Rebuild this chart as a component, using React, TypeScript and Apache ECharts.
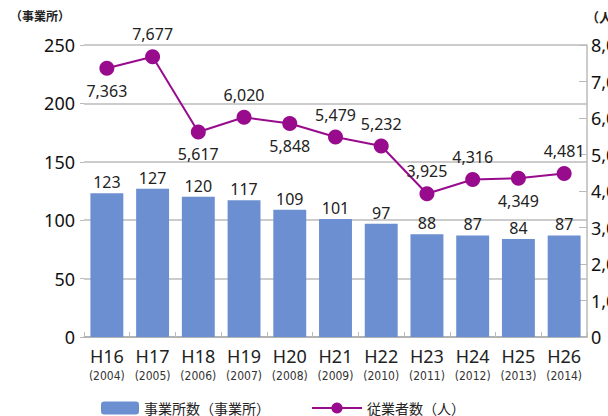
import React, { useEffect, useRef } from "react";
import * as echarts from "echarts";

const categories = ["H16", "H17", "H18", "H19", "H20", "H21", "H22", "H23", "H24", "H25", "H26"];
const years = ["2004", "2005", "2006", "2007", "2008", "2009", "2010", "2011", "2012", "2013", "2014"];
const establishments = [123, 127, 120, 117, 109, 101, 97, 88, 87, 84, 87];
const employees = [7363, 7677, 5617, 6020, 5848, 5479, 5232, 3925, 4316, 4349, 4481];
const employeeLabelSide = ["bottom", "top", "bottom", "top", "bottom", "top", "top", "top", "top", "bottom", "top"];

const barName = "事業所数（事業所）";
const lineName = "従業者数（人）";
const BAR = "#6c8fd2";
const LINE = "#980b8d";
const FONT = "'Noto Sans', 'Noto Sans CJK JP', sans-serif";

export default function App() {
  const ref = useRef<HTMLDivElement>(null);
  useEffect(() => {
    if (!ref.current) return;
    const chart = echarts.init(ref.current, null, { renderer: "svg" });
    chart.setOption({
      animation: false,
      textStyle: { fontFamily: FONT },
      grid: { left: 84, right: 21, top: 45, bottom: 79, containLabel: false, outerBoundsMode: "none" },
      legend: [
        {
          data: [barName],
          left: 96,
          top: 396,
          itemWidth: 38,
          itemHeight: 13,
          itemGap: 8,
          textStyle: { fontSize: 14, color: "#222", fontFamily: FONT },
        },
        {
          data: [lineName],
          left: 306,
          top: 396,
          itemWidth: 50,
          itemHeight: 14,
          textStyle: { fontSize: 14, color: "#222", fontFamily: FONT },
        },
      ],
      graphic: [
        {
          type: "text",
          left: 10,
          top: 10,
          style: { text: "（事業所）", fontSize: 12, fontWeight: "bold", fill: "#222", fontFamily: FONT },
        },
        {
          type: "text",
          x: 586,
          y: 10,
          style: { text: "（人）", fontSize: 13, fontWeight: "bold", fill: "#222", fontFamily: FONT },
        },
      ],
      xAxis: {
        type: "category",
        data: categories.map((c, i) => c + "\n{y|(" + years[i] + ")}"),
        axisLine: { show: true, lineStyle: { color: "#aaa", width: 1.5 } },
        axisTick: { show: true, inside: true, length: 5, lineStyle: { color: "#bbb" } },
        axisLabel: {
          color: "#222",
          fontSize: 18,
          fontFamily: FONT,
          margin: 8,
          lineHeight: 22,
          interval: 0,
          rich: {
            y: { fontSize: 12, fontFamily: "'DejaVu Sans Condensed', 'Noto Sans', sans-serif", color: "#333", lineHeight: 18 },
          },
        },
      },
      yAxis: [
        {
          type: "value",
          min: 0,
          max: 250,
          interval: 50,
          axisLine: { show: false },
          axisTick: { show: true, length: 4, lineStyle: { color: "#bbb" } },
          splitLine: { show: true, lineStyle: { color: "#bbb", width: 1.5 } },
          axisLabel: { color: "#111", fontSize: 18, fontFamily: FONT, margin: 9 },
        },
        {
          type: "value",
          min: 0,
          max: 8000,
          interval: 1000,
          axisLine: { show: true, lineStyle: { color: "#bbb", width: 1.5 } },
          axisTick: { show: true, inside: true, length: 8, lineStyle: { color: "#bbb" } },
          splitLine: { show: false },
          axisLabel: {
            color: "#111",
            fontSize: 18,
            fontFamily: FONT,
            margin: 4,
            formatter: (v: number) => v.toLocaleString("en-US"),
          },
        },
      ],
      series: [
        {
          name: barName,
          type: "bar",
          data: establishments,
          barCategoryGap: "28%",
          itemStyle: { color: BAR },
          label: { show: true, position: "top", fontSize: 16, color: "#222", distance: 3, fontFamily: FONT },
        },
        {
          name: lineName,
          type: "line",
          yAxisIndex: 1,
          data: employees.map((v, i) => ({
            value: v,
            label: { position: employeeLabelSide[i] },
          })),
          symbol: "circle",
          symbolSize: 15,
          lineStyle: { color: LINE, width: 2 },
          itemStyle: { color: LINE },
          label: {
            show: true,
            fontSize: 16,
            color: "#222",
            distance: 7,
            fontFamily: FONT,
            formatter: (p: any) => Number(p.value).toLocaleString("en-US"),
          },
          z: 5,
        },
      ],
    });
    return () => chart.dispose();
  }, []);
  return <div ref={ref} style={{ position: "fixed", left: 0, top: 0, width: 608, height: 416, background: "#fff" }} />;
}
